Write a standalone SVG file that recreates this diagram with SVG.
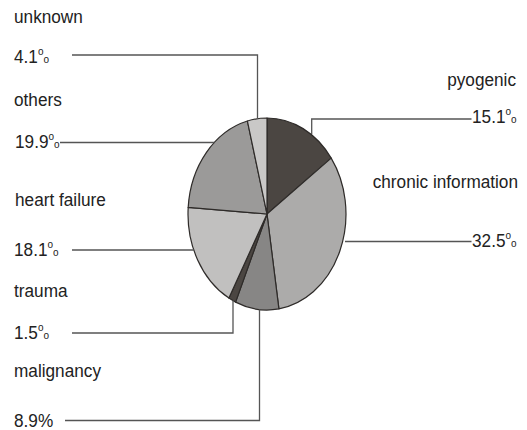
<svg xmlns="http://www.w3.org/2000/svg" width="527" height="430" viewBox="0 0 527 430">
<style>
.t{font-family:"Liberation Sans",Arial,sans-serif;font-size:17.2px;fill:#222}
.s{font-size:10px}
.slice{stroke:#2e2b29;stroke-width:1.2;stroke-linejoin:round}
.ld{fill:none;stroke:#555;stroke-width:1.3}
</style>
<rect width="527" height="430" fill="#fff"/>
<g id="pie">
<g id="pyogenic">
<path class="slice" fill="#4b4642" d="M267,214 L267,118 A79,96 0 0 1 331.2,158.1 Z"/>
<text class="t" text-anchor="end" transform="translate(516 86) scale(1 1.1)">pyogenic</text>
<text class="t" transform="translate(472 123) scale(1 1.1)">15.1<tspan class="s" dy="-7">o</tspan><tspan class="s" dy="7">o</tspan></text>
</g>
<g id="chronic">
<path class="slice" fill="#acabaa" d="M267,214 L331.2,158.1 A79,96 0 0 1 278.9,308.9 Z"/>
<text class="t" text-anchor="end" transform="translate(518 188) scale(1 1.1)">chronic information</text>
<text class="t" transform="translate(472 246.5) scale(1 1.1)">32.5<tspan class="s" dy="-7">o</tspan><tspan class="s" dy="7">o</tspan></text>
</g>
<g id="malignancy">
<path class="slice" fill="#878685" d="M267,214 L278.9,308.9 A79,96 0 0 1 235.6,302.1 Z"/>
<text class="t" transform="translate(14 377) scale(1 1.1)">malignancy</text>
<text class="t" transform="translate(14 427) scale(1 1.1)">8.9%</text>
</g>
<g id="trauma">
<path class="slice" fill="#4b4642" d="M267,214 L235.6,302.1 A79,96 0 0 1 228.9,298.1 Z"/>
<text class="t" transform="translate(14 297) scale(1 1.1)">trauma</text>
<text class="t" transform="translate(14 338.5) scale(1 1.1)">1.5<tspan class="s" dy="-7">o</tspan><tspan class="s" dy="7">o</tspan></text>
</g>
<g id="heart-failure">
<path class="slice" fill="#c1c0bf" d="M267,214 L228.9,298.1 A79,96 0 0 1 188.2,207.4 Z"/>
<text class="t" transform="translate(15 206) scale(1 1.1)">heart failure</text>
<text class="t" transform="translate(14 256) scale(1 1.1)">18.1<tspan class="s" dy="-7">o</tspan><tspan class="s" dy="7">o</tspan></text>
</g>
<g id="others">
<path class="slice" fill="#9b9a99" d="M267,214 L188.2,207.4 A79,96 0 0 1 247.4,121 Z"/>
<text class="t" transform="translate(14 106) scale(1 1.1)">others</text>
<text class="t" transform="translate(15 148) scale(1 1.1)">19.9<tspan class="s" dy="-7">o</tspan><tspan class="s" dy="7">o</tspan></text>
</g>
<g id="unknown">
<path class="slice" fill="#c9c8c7" d="M267,214 L247.4,121 A79,96 0 0 1 267,118 Z"/>
<text class="t" transform="translate(14 23) scale(1 1.1)">unknown</text>
<text class="t" transform="translate(14 63) scale(1 1.1)">4.1<tspan class="s" dy="-7">o</tspan><tspan class="s" dy="7">o</tspan></text>
</g>
</g>
<g id="connectors">
<polyline class="ld" points="72,55 257.5,55 257.5,119"/>
<polyline class="ld" points="60,142.5 214.5,142.5"/>
<polyline class="ld" points="72,250 194,250"/>
<polyline class="ld" points="72,333 233,333 233,300.5"/>
<polyline class="ld" points="65,420.5 259.5,420.5 259.5,309.5"/>
<polyline class="ld" points="471.5,119 311.7,119 311.7,134"/>
<polyline class="ld" points="345,241.5 471.5,241.5"/>
</g>
</svg>
